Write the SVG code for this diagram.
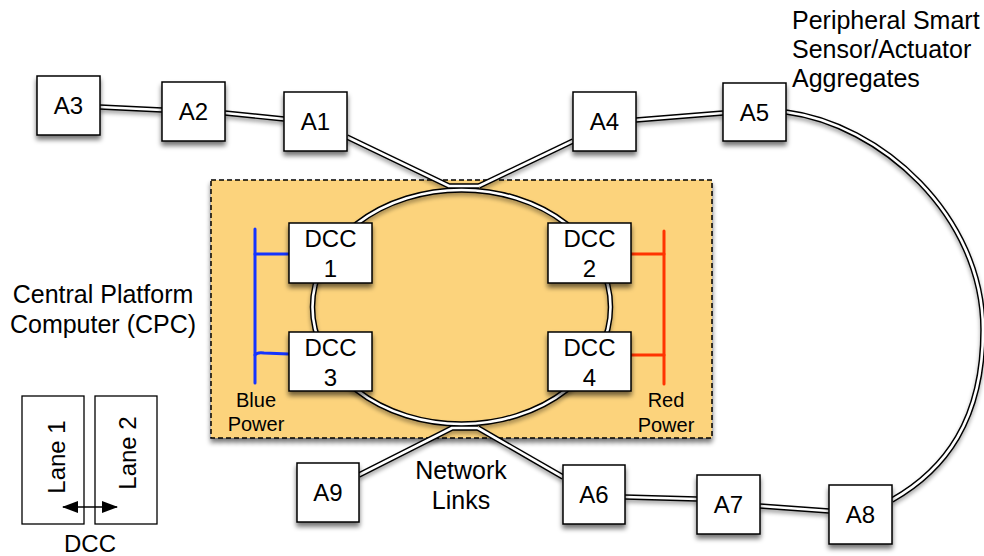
<svg xmlns="http://www.w3.org/2000/svg" xmlns:xlink="http://www.w3.org/1999/xlink" width="984" height="556" viewBox="0 0 984 556">
<style>
  text { font-family: "Liberation Sans", Arial, sans-serif; fill: #000; }
  .lbl { font-size: 24px; text-anchor: middle; }
  .big { font-size: 25px; text-anchor: middle; }
  .small { font-size: 20px; text-anchor: middle; }
  .note { font-size: 25px; }
  .box { fill: #fff; stroke: #000; stroke-width: 1.5; }
  .lane { fill: #fff; stroke: #000; stroke-width: 1.3; }
  .outer { fill: none; stroke: #000; stroke-width: 5.5; stroke-linejoin: round; }
  .inner { fill: none; stroke: #fff; stroke-width: 2.6; stroke-linejoin: round; }
  .blue { fill: none; stroke: #1434ff; stroke-width: 3; stroke-linecap: round; }
  .red { fill: none; stroke: #ff3300; stroke-width: 3; stroke-linecap: round; }
</style>
<defs>
  <filter id="sh" x="-30%" y="-30%" width="160%" height="170%">
    <feGaussianBlur in="SourceAlpha" stdDeviation="2.5"/>
    <feOffset dx="0" dy="4"/>
    <feComponentTransfer><feFuncA type="linear" slope="0.55"/></feComponentTransfer>
    <feMerge><feMergeNode/><feMergeNode in="SourceGraphic"/></feMerge>
  </filter>
  <filter id="shl" filterUnits="userSpaceOnUse" x="0" y="0" width="984" height="556">
    <feGaussianBlur in="SourceAlpha" stdDeviation="2"/>
    <feOffset dx="0" dy="3"/>
    <feComponentTransfer><feFuncA type="linear" slope="0.35"/></feComponentTransfer>
    <feMerge><feMergeNode/><feMergeNode in="SourceGraphic"/></feMerge>
  </filter>
  <marker id="ah" viewBox="0 0 16 12" refX="15" refY="6" markerWidth="16" markerHeight="12" orient="auto-start-reverse" markerUnits="userSpaceOnUse">
    <path d="M0,0 L16,6 L0,12 z" fill="#000"/>
  </marker>
  <path id="l32" d="M100,107 L162,110"/>
  <path id="l21" d="M225,113 L284,119"/>
  <path id="l1r" d="M347,137 L449,186 L479,186"/>
  <path id="l4r" d="M573,141 L479,186"/>
  <path id="l45" d="M636,120 L723,113"/>
  <path id="l58" d="M786,112 C880,124 983,215 983,330 C983,420 945,470 892,500"/>
  <path id="l9r" d="M359,475 L452,428 L478,428"/>
  <path id="l6r" d="M563,477 L478,428"/>
  <path id="l67" d="M625,497 L697,499"/>
  <path id="l78" d="M760,506 L829,511"/>
  <ellipse id="ring" cx="461.5" cy="307" rx="149" ry="117"/>
</defs>

<g id="cpc">
  <rect x="211" y="180" width="501" height="258" fill="#fcd37c" stroke="#000" stroke-width="1.5" stroke-dasharray="5,3" filter="url(#sh)"/>
</g>

<g id="connectors" filter="url(#shl)">
  <use xlink:href="#ring" class="outer"/>
  <use xlink:href="#l32" class="outer"/>
  <use xlink:href="#l21" class="outer"/>
  <use xlink:href="#l1r" class="outer"/>
  <use xlink:href="#l4r" class="outer"/>
  <use xlink:href="#l45" class="outer"/>
  <use xlink:href="#l58" class="outer"/>
  <use xlink:href="#l9r" class="outer"/>
  <use xlink:href="#l6r" class="outer"/>
  <use xlink:href="#l67" class="outer"/>
  <use xlink:href="#l78" class="outer"/>
  <use xlink:href="#ring" class="inner"/>
  <use xlink:href="#l32" class="inner"/>
  <use xlink:href="#l21" class="inner"/>
  <use xlink:href="#l1r" class="inner"/>
  <use xlink:href="#l4r" class="inner"/>
  <use xlink:href="#l45" class="inner"/>
  <use xlink:href="#l58" class="inner"/>
  <use xlink:href="#l9r" class="inner"/>
  <use xlink:href="#l6r" class="inner"/>
  <use xlink:href="#l67" class="inner"/>
  <use xlink:href="#l78" class="inner"/>
</g>

<g id="blue-power">
  <path class="blue" d="M255,229 L255,383"/>
  <path class="blue" d="M255,254 L289,254"/>
  <path class="blue" d="M255,355 Q257,352 264,353 L289,354"/>
  <text class="small" x="256" y="407">Blue</text>
  <text class="small" x="256" y="431">Power</text>
</g>
<g id="red-power">
  <path class="red" d="M664,231 L664,384"/>
  <path class="red" d="M631,254 L664,254"/>
  <path class="red" d="M631,355 L664,355"/>
  <text class="small" x="666" y="407">Red</text>
  <text class="small" x="666" y="432">Power</text>
</g>

<g id="A3"><rect class="box" x="37" y="76" width="63" height="59" filter="url(#sh)"/><text class="lbl" x="68.5" y="114">A3</text></g>
<g id="A2"><rect class="box" x="162" y="82" width="63" height="59" filter="url(#sh)"/><text class="lbl" x="193.5" y="120">A2</text></g>
<g id="A1"><rect class="box" x="284" y="92" width="63" height="59" filter="url(#sh)"/><text class="lbl" x="315.5" y="130">A1</text></g>
<g id="A4"><rect class="box" x="573" y="92" width="63" height="59" filter="url(#sh)"/><text class="lbl" x="604.5" y="130">A4</text></g>
<g id="A5"><rect class="box" x="723" y="83" width="63" height="58" filter="url(#sh)"/><text class="lbl" x="754.5" y="121">A5</text></g>
<g id="A9"><rect class="box" x="297" y="463" width="62" height="59" filter="url(#sh)"/><text class="lbl" x="328" y="501">A9</text></g>
<g id="A6"><rect class="box" x="563" y="465" width="62" height="59" filter="url(#sh)"/><text class="lbl" x="594" y="503">A6</text></g>
<g id="A7"><rect class="box" x="697" y="475" width="63" height="59" filter="url(#sh)"/><text class="lbl" x="728.5" y="513">A7</text></g>
<g id="A8"><rect class="box" x="829" y="485" width="63" height="59" filter="url(#sh)"/><text class="lbl" x="860.5" y="523">A8</text></g>

<g id="DCC1"><rect class="box" x="289" y="223" width="83" height="60" filter="url(#sh)"/><text class="lbl" x="330.5" y="247">DCC</text><text class="lbl" x="330.5" y="277">1</text></g>
<g id="DCC2"><rect class="box" x="548" y="223" width="83" height="60" filter="url(#sh)"/><text class="lbl" x="589.5" y="247">DCC</text><text class="lbl" x="589.5" y="277">2</text></g>
<g id="DCC3"><rect class="box" x="289" y="332" width="83" height="59" filter="url(#sh)"/><text class="lbl" x="330.5" y="356">DCC</text><text class="lbl" x="330.5" y="386">3</text></g>
<g id="DCC4"><rect class="box" x="548" y="332" width="83" height="59" filter="url(#sh)"/><text class="lbl" x="589.5" y="356">DCC</text><text class="lbl" x="589.5" y="386">4</text></g>

<g id="cpc-label">
  <text class="big" x="103" y="303">Central Platform</text>
  <text class="big" x="103" y="333">Computer (CPC)</text>
</g>
<g id="peripheral-label">
  <text class="note" x="792" y="29">Peripheral Smart</text>
  <text class="note" x="792" y="58">Sensor/Actuator</text>
  <text class="note" x="792" y="87">Aggregates</text>
</g>
<g id="network-label">
  <text class="big" x="461" y="479">Network</text>
  <text class="big" x="461" y="509">Links</text>
</g>

<g id="legend">
  <rect class="lane" x="22" y="396" width="62" height="128"/>
  <rect class="lane" x="95" y="396" width="62" height="128"/>
  <text class="lbl" transform="translate(65,457) rotate(-90)" x="0" y="0">Lane 1</text>
  <text class="lbl" transform="translate(136,453) rotate(-90)" x="0" y="0">Lane 2</text>
  <line x1="63" y1="507" x2="117" y2="507" stroke="#000" stroke-width="1.5" marker-start="url(#ah)" marker-end="url(#ah)"/>
  <text class="lbl" x="90" y="552">DCC</text>
</g>
</svg>
